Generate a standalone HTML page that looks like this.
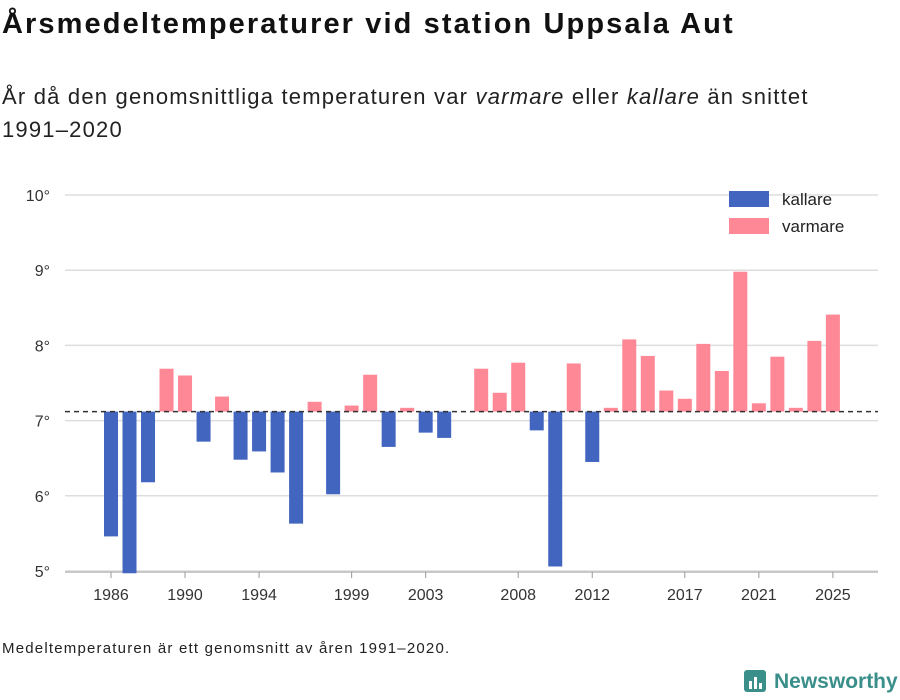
<!DOCTYPE html>
<html><head><meta charset="utf-8"><style>
body{margin:0;width:900px;height:700px;background:#fff;font-family:"Liberation Sans","DejaVu Sans",sans-serif;color:#111;overflow:hidden;position:relative}
#title{position:absolute;left:2px;top:8px;font-size:29px;font-weight:bold;margin:0;letter-spacing:2.1px}
#sub{position:absolute;left:2px;top:80px;font-size:22px;line-height:33px;color:#222;width:890px;letter-spacing:1.2px}
#note{position:absolute;left:2px;top:640px;font-size:15px;color:#222;letter-spacing:1.2px}
#logo{position:absolute;left:744px;top:668px;font-size:21px;color:#3a8f8a;font-weight:bold}
svg{position:absolute;left:0;top:0}
</style></head><body>
<h1 id="title">Årsmedeltemperaturer vid station Uppsala Aut</h1>
<div id="sub">År då den genomsnittliga temperaturen var <i>varmare</i> eller <i>kallare</i> än snittet<br>1991–2020</div>
<div id="note">Medeltemperaturen är ett genomsnitt av åren 1991–2020.</div>
<div id="logo"><svg width="24" height="24" style="position:relative;vertical-align:-4px;margin-right:6px"><rect x="0" y="2" width="22" height="22" rx="3" fill="#3a8f8a"/><rect x="5" y="13" width="3" height="8" fill="#fff"/><rect x="10" y="9" width="3" height="12" fill="#fff"/><rect x="15" y="15" width="3" height="6" fill="#fff"/></svg>Newsworthy</div>
<svg id="chart" width="900" height="700"></svg>
<script>
const years=[1986,1987,1988,1989,1990,1991,1992,1993,1994,1995,1996,1997,1998,1999,2000,2001,2002,2003,2004,2005,2006,2007,2008,2009,2010,2011,2012,2013,2014,2015,2016,2017,2018,2019,2020,2021,2022,2023,2024,2025];
const temps=[5.46,4.97,6.18,7.69,7.60,6.72,7.32,6.48,6.59,6.31,5.63,7.25,6.02,7.20,7.61,6.65,7.17,6.84,6.77,7.12,7.69,7.37,7.77,6.87,5.06,7.76,6.45,7.17,8.08,7.86,7.40,7.29,8.02,7.66,8.98,7.23,7.85,7.17,8.06,8.41];
const mean=7.12;
const yTicks=[5,6,7,8,9,10];
const xTicks=[1986,1990,1994,1999,2003,2008,2012,2017,2021,2025];
const NS="http://www.w3.org/2000/svg",svg=document.getElementById('chart');
const y=v=>571-(v-5)*75.2, x=yr=>111+(yr-1986)*18.51;
function mk(t,a,p){const e=document.createElementNS(NS,t);for(const k in a)e.setAttribute(k,a[k]);(p||svg).appendChild(e);return e;}
yTicks.forEach(t=>{
 const l=mk('line',{x1:65,x2:878,y1:y(t),y2:y(t),stroke:'#ddd','stroke-width':1.5});
 
 
 const tx=mk('text',{x:50,y:y(t)+6,'text-anchor':'end','font-size':16,fill:'#333'});tx.textContent=t+'°';
 
 
});
const ax=mk('line',{x1:65,x2:878,y1:572,y2:572,stroke:'#bbb','stroke-width':1.5});


xTicks.forEach(t=>{
 mk('line',{x1:x(t),x2:x(t),y1:572,y2:578,stroke:'#999'});
 const tx=mk('text',{x:x(t),y:600,'text-anchor':'middle','font-size':16,fill:'#333'});tx.textContent=t;
 
 
});
years.forEach((yr,i)=>{
 const v=temps[i],top=Math.min(y(v),y(mean)),h=Math.abs(y(v)-y(mean));
 const r=mk('rect',{x:x(yr)-7,y:top,width:14,height:h,fill:v<mean?'#4265c0':'#ff8896'});
 
 
});
const ml=mk('line',{x1:65,x2:878,y1:y(mean),y2:y(mean),stroke:'#333','stroke-width':1.5,'stroke-dasharray':'5,4'});


[['kallare','#4265c0',191],['varmare','#ff8896',218]].forEach(([n,c,yy])=>{
 const g=mk('g',{});
 
 
 mk('rect',{x:729,y:yy,width:40,height:16,fill:c},g);
 const t=mk('text',{x:782,y:yy+14,'font-size':17,fill:'#222'},g);t.textContent=n;
});
</script>
</body></html>
